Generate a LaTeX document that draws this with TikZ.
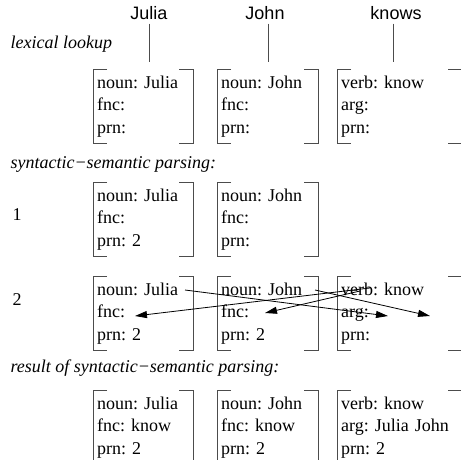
\documentclass[tikz,border=0pt]{standalone}
\usepackage{fontspec}
\setmainfont{Liberation Serif}
\setsansfont{Liberation Sans}
\usetikzlibrary{arrows.meta}
\newcommand{\fssize}{\fontsize{18}{22.5}\selectfont\frenchspacing}

\tikzset{
  fs/.style={anchor=north west, align=left, inner xsep=4pt, inner ysep=0pt,
             minimum height=74pt, text width=#1, font=\fssize},
  fs/.default=92pt,
  brk/.style={draw=black!70, line width=0.9pt},
  lbl/.style={anchor=base west, font=\fssize\itshape},
  word/.style={anchor=base, font=\fssize\sffamily},
  arc/.style={-{Triangle[length=12pt,width=7pt]}, line width=0.8pt}
}

\begin{document}
\begin{tikzpicture}[x=1pt, y=-1pt, font=\fssize]
     \useasboundingbox (0,0) rectangle (461,460);
     \clip (0,0) rectangle (461,460);
     % words
     \node[word] at (149,20) (wj) {Julia};
     \node[word] at (265,20) (wn) {John};
     \node[word] at (396,20) (wk) {knows};
     \coordinate (tj) at (149,62);
     \coordinate (tn) at (268,62);
     \coordinate (tk) at (393,62);
     \draw[brk] (tj |- wj.south) -- (tj)
                (tn |- wn.south) -- (tn)
                (tk |- wk.south) -- (tk);
     % labels
     \node[lbl] at (7,49) (l1) {lexical lookup};
     \node[lbl] at (7,168) (l2) {syntactic−semantic parsing:};
     \node[lbl] at (7,372) (l3) {result of syntactic−semantic parsing:};
     \node[anchor=base west] at (9,220) (n1) {1};
     \node[anchor=base west] at (9,305) (n2) {2};
     % lexical lookup
     \node[fs] at (93,69) (lx1) {noun: Julia\\fnc:\\prn:};
     \node[fs=93pt] at (217,69) (lx2) {noun: John\\fnc:\\prn:};
     \node[fs=117pt] at (337,69) (lx3) {verb: know\\arg:\\prn:};
     % step 1
     \node[fs] at (93,182) (p1a) {noun: Julia\\fnc:\\prn: 2};
     \node[fs=93pt] at (217,182) (p1b) {noun: John\\fnc:\\prn:};
     % step 2
     \node[fs] at (93,276) (p2a) {noun: Julia\\fnc:\\prn: 2};
     \node[fs=93pt] at (217,276) (p2b) {noun: John\\fnc:\\prn: 2};
     \node[fs=117pt] at (337,276) (p2c) {verb: know\\arg:\\prn:};
     % result
     \node[fs] at (93,390) (rs1) {noun: Julia\\fnc: know\\prn: 2};
     \node[fs=93pt] at (217,390) (rs2) {noun: John\\fnc: know\\prn: 2};
     \node[fs=117pt] at (337,390) (rs3) {verb: know\\arg: Julia John\\prn: 2};
     % brackets
     \foreach \b in {lx1,lx2,lx3,p1a,p1b,p2a,p2b,p2c,rs1,rs2,rs3}
       \draw[brk] ([xshift=14pt]\b.north west) -| (\b.south west) -- ++(14,0)
                  ([xshift=-14pt]\b.north east) -| (\b.south east) -- ++(-14,0);
     % links of step 2
     \coordinate (jul) at ([shift={(92,14)}]p2a.north west);
     \coordinate (jon) at ([shift={(98,14)}]p2b.north west);
     \coordinate (va) at ([shift={(33,12)}]p2c.north west);
     \coordinate (vb) at ([shift={(23,15)}]p2c.north west);
     \coordinate (fa) at ([shift={(42,40)}]p2a.north west);
     \coordinate (fb) at ([shift={(48,37)}]p2b.north west);
     \coordinate (ga) at ([shift={(51,40)}]p2c.north west);
     \coordinate (gb) at ([shift={(93,40)}]p2c.north west);
     \draw[arc] (jul) -- (ga);
     \draw[arc] (jon) -- (gb);
     \draw[arc] (va) -- (fa);
     \draw[arc] (vb) -- (fb);
\end{tikzpicture}
\end{document}
